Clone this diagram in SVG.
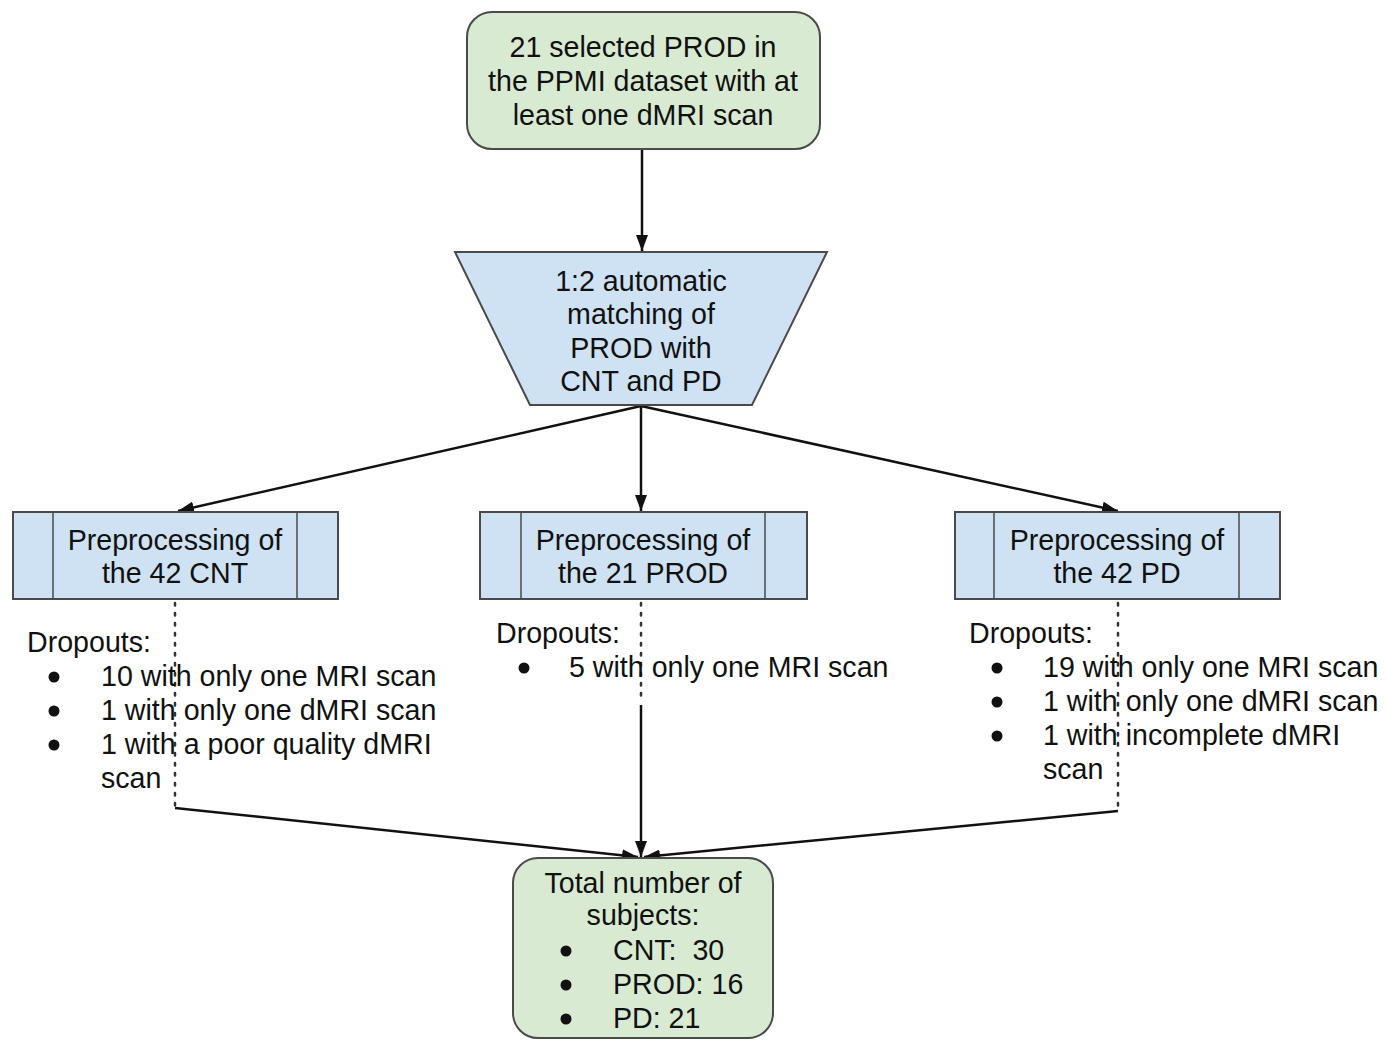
<svg xmlns="http://www.w3.org/2000/svg" width="1387" height="1049" viewBox="0 0 1387 1049">
<style>
text{font-family:"Liberation Sans",Arial,sans-serif;font-size:28.6px;fill:#111;white-space:pre}
.c{text-anchor:middle}
.g{fill:#d9ead3;stroke:#4a4a4a;stroke-width:2}
.b{fill:#cfe2f3;stroke:#4a4a4a;stroke-width:2}
.ln{stroke:#4a4a4a;stroke-width:1.5;fill:none}
.ar{stroke:#111;stroke-width:2.5;fill:none;marker-end:url(#ah)}
.dot{stroke:#333;stroke-width:2.5;fill:none;stroke-dasharray:2.5 7.5;stroke-linecap:round}
.bu{fill:#111}
</style>
<defs>
<marker id="ah" viewBox="0 0 16 12" refX="16" refY="6" markerWidth="16" markerHeight="12" markerUnits="userSpaceOnUse" orient="auto">
<path d="M0,0 L16,6 L0,12 z" fill="#111"/>
</marker>
</defs>
<rect width="1387" height="1049" fill="#fff"/>
<g id="connectors">
<line class="ar" x1="642" y1="150" x2="642" y2="251"/>
<line class="ar" x1="641" y1="406" x2="178" y2="511"/>
<line class="ar" x1="641" y1="406" x2="641" y2="511"/>
<line class="ar" x1="641" y1="406" x2="1118" y2="511"/>
<line class="dot" x1="175" y1="603" x2="175" y2="806"/>
<line class="dot" x1="641" y1="603" x2="641" y2="700"/>
<line class="dot" x1="1118" y1="603" x2="1118" y2="810"/>
<line class="ar" x1="175" y1="808" x2="638" y2="857"/>
<line class="ar" x1="641" y1="705" x2="641" y2="857"/>
<line class="ar" x1="1118" y1="811" x2="644" y2="857"/>
</g>
<g id="start">
<rect class="g" x="467" y="12" width="353" height="137" rx="25"/>
<text class="c" x="643" y="57">21 selected PROD in</text>
<text class="c" x="643" y="91">the PPMI dataset with at</text>
<text class="c" x="643" y="125">least one dMRI scan</text>
</g>
<g id="matching">
<polygon class="b" points="455,252 827,252 752,405 530,405"/>
<text class="c" x="641" y="291">1:2 automatic</text>
<text class="c" x="641" y="324">matching of</text>
<text class="c" x="641" y="358">PROD with</text>
<text class="c" x="641" y="391">CNT and PD</text>
</g>
<g id="prep-cnt">
<rect class="b" x="13" y="512" width="325" height="87"/>
<line class="ln" x1="53" y1="512" x2="53" y2="599"/>
<line class="ln" x1="297" y1="512" x2="297" y2="599"/>
<text class="c" x="175" y="550">Preprocessing of</text>
<text class="c" x="175" y="583">the 42 CNT</text>
</g>
<g id="prep-prod">
<rect class="b" x="480" y="512" width="327" height="87"/>
<line class="ln" x1="521" y1="512" x2="521" y2="599"/>
<line class="ln" x1="765" y1="512" x2="765" y2="599"/>
<text class="c" x="643" y="550">Preprocessing of</text>
<text class="c" x="643" y="583">the 21 PROD</text>
</g>
<g id="prep-pd">
<rect class="b" x="955" y="512" width="325" height="87"/>
<line class="ln" x1="994" y1="512" x2="994" y2="599"/>
<line class="ln" x1="1239" y1="512" x2="1239" y2="599"/>
<text class="c" x="1117" y="550">Preprocessing of</text>
<text class="c" x="1117" y="583">the 42 PD</text>
</g>
<g id="dropouts-cnt">
<text x="27" y="652">Dropouts:</text>
<circle class="bu" cx="54" cy="677" r="5.5"/><text x="101" y="686">10 with only one MRI scan</text>
<circle class="bu" cx="54" cy="711" r="5.5"/><text x="101" y="720">1 with only one dMRI scan</text>
<circle class="bu" cx="54" cy="745" r="5.5"/><text x="101" y="754">1 with a poor quality dMRI</text>
<text x="101" y="788">scan</text>
</g>
<g id="dropouts-prod">
<text x="496" y="643">Dropouts:</text>
<circle class="bu" cx="524" cy="668" r="5.5"/><text x="569" y="677">5 with only one MRI scan</text>
</g>
<g id="dropouts-pd">
<text x="969" y="643">Dropouts:</text>
<circle class="bu" cx="997" cy="668" r="5.5"/><text x="1043" y="677">19 with only one MRI scan</text>
<circle class="bu" cx="997" cy="702" r="5.5"/><text x="1043" y="711">1 with only one dMRI scan</text>
<circle class="bu" cx="997" cy="736" r="5.5"/><text x="1043" y="745">1 with incomplete dMRI</text>
<text x="1043" y="779">scan</text>
</g>
<g id="total">
<rect class="g" x="513" y="858" width="260" height="180" rx="25"/>
<text class="c" x="643" y="893">Total number of</text>
<text class="c" x="643" y="925">subjects:</text>
<circle class="bu" cx="566" cy="951" r="5.5"/><text x="613" y="960">CNT:  30</text>
<circle class="bu" cx="566" cy="985" r="5.5"/><text x="613" y="994">PROD: 16</text>
<circle class="bu" cx="566" cy="1019" r="5.5"/><text x="613" y="1028">PD: 21</text>
</g>
</svg>
